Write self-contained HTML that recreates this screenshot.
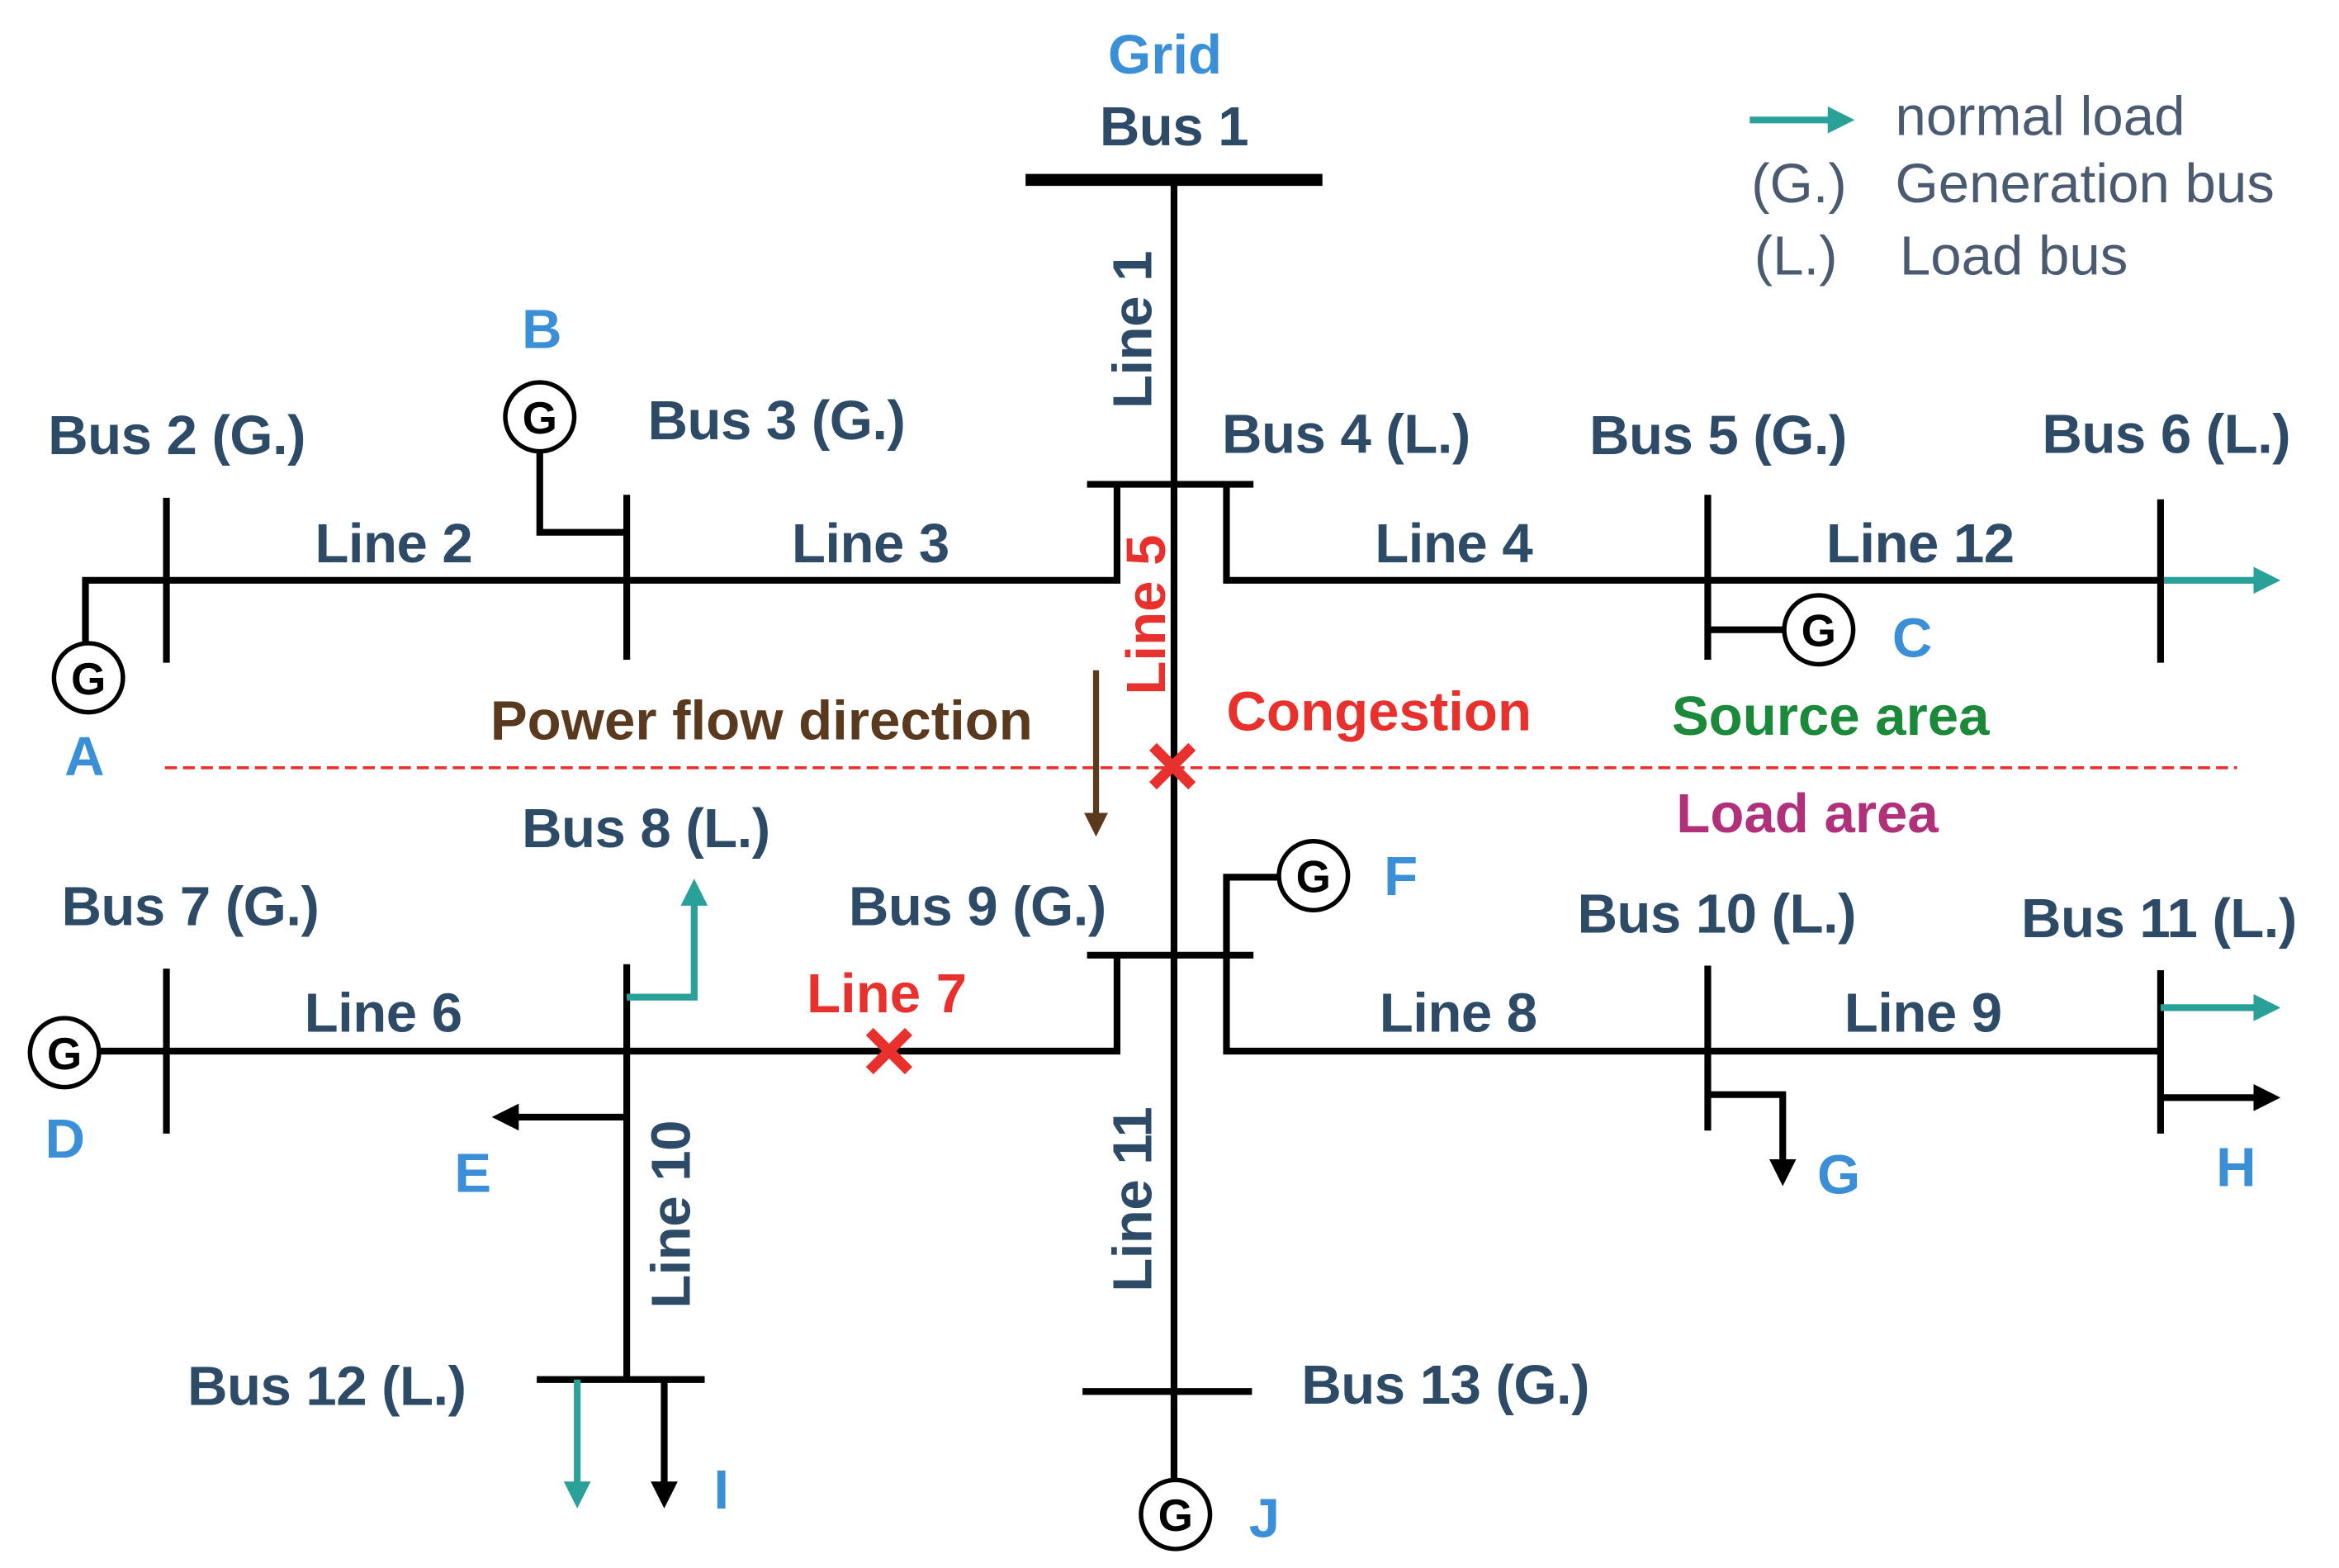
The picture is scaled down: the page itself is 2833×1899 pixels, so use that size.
<!DOCTYPE html>
<html><head><meta charset="utf-8"><style>
html,body{margin:0;padding:0;background:#fff;}
svg{display:block;}
text{font-family:"Liberation Sans",sans-serif;font-weight:bold;}
.d{fill:#2d4a66;font-size:37px;letter-spacing:-0.3px;}
.b{fill:#3a8fd6;font-size:37px;}
.r{fill:#e8302c;font-size:37px;}
.lg{fill:#4a5a70;font-size:37px;font-weight:normal;}
.k{stroke:#000;stroke-width:4.5;fill:none;}
.t{stroke:#2aa198;stroke-width:4.5;fill:none;}
</style></head><body>
<svg width="2833" height="1899" viewBox="0 0 1560 1045.7" preserveAspectRatio="none" xmlns="http://www.w3.org/2000/svg">
<defs>
<marker id="ak" markerWidth="4" markerHeight="4" refX="2" refY="2" orient="auto" markerUnits="strokeWidth"><path d="M0,0 L4,2 L0,4 z" fill="#000"/></marker>
<marker id="at" markerWidth="4" markerHeight="4" refX="2" refY="2" orient="auto" markerUnits="strokeWidth"><path d="M0,0 L4,2 L0,4 z" fill="#2aa198"/></marker>
<marker id="ab" markerWidth="4" markerHeight="4" refX="2" refY="2" orient="auto" markerUnits="strokeWidth"><path d="M0,0 L4,2 L0,4 z" fill="#5a3a1e"/></marker>
</defs>
<text x="777" y="49" class="b" text-anchor="middle">Grid</text>
<text x="783" y="97" class="d" text-anchor="middle">Bus 1</text>
<line x1="684" y1="120" x2="882" y2="120" stroke="#000" stroke-width="8"/>
<line x1="783" y1="120" x2="783" y2="990" class="k"/>
<line x1="725" y1="323" x2="836" y2="323" class="k"/>
<polyline points="745,323 745,387 57,387 57,430" class="k"/>
<polyline points="818,323 818,387 1440,387" class="k"/>
<line x1="1440" y1="387" x2="1512" y2="387" class="t" marker-end="url(#at)"/>
<line x1="111" y1="332" x2="111" y2="442" class="k"/>
<line x1="418" y1="330" x2="418" y2="440" class="k"/>
<polyline points="360,300 360,355 418,355" class="k"/>
<line x1="1139" y1="330" x2="1139" y2="440" class="k"/>
<line x1="1139" y1="420" x2="1190" y2="420" class="k"/>
<line x1="1441" y1="333" x2="1441" y2="442" class="k"/>
<line x1="725" y1="637" x2="836" y2="637" class="k"/>
<polyline points="745,637 745,701 66,701" class="k"/>
<polyline points="853,585 818,585 818,701 1440,701" class="k"/>
<line x1="111" y1="646" x2="111" y2="756" class="k"/>
<line x1="418" y1="643" x2="418" y2="920" class="k"/>
<polyline points="418,665 463,665 463,595" class="t" marker-end="url(#at)"/>
<line x1="418" y1="745" x2="337" y2="745" class="k" marker-end="url(#ak)"/>
<line x1="1139" y1="644" x2="1139" y2="754" class="k"/>
<polyline points="1139,730 1189,730 1189,782" class="k" marker-end="url(#ak)"/>
<line x1="1441" y1="647" x2="1441" y2="756" class="k"/>
<line x1="1441" y1="672" x2="1512" y2="672" class="t" marker-end="url(#at)"/>
<line x1="1441" y1="732" x2="1512" y2="732" class="k" marker-end="url(#ak)"/>
<line x1="358" y1="920" x2="470" y2="920" class="k"/>
<line x1="385" y1="920" x2="385" y2="997" class="t" marker-end="url(#at)"/>
<line x1="443" y1="920" x2="443" y2="997" class="k" marker-end="url(#ak)"/>
<line x1="722" y1="928" x2="835" y2="928" class="k"/>
<g stroke="#000" stroke-width="3" fill="#fff">
<circle cx="59" cy="452" r="23"/><circle cx="360" cy="278" r="23"/><circle cx="1213" cy="420" r="23"/>
<circle cx="876" cy="584" r="23"/><circle cx="43" cy="702" r="23"/><circle cx="784" cy="1010" r="23"/>
</g>
<g font-size="30" text-anchor="middle" fill="#000" style="font-family:'Liberation Sans',sans-serif;font-weight:bold">
<text x="59" y="463">G</text><text x="360" y="289">G</text><text x="1213" y="431">G</text>
<text x="876" y="595">G</text><text x="43" y="713">G</text><text x="784" y="1021">G</text>
</g>
<line x1="110" y1="512" x2="1492" y2="512" stroke="#e8302c" stroke-width="2" stroke-dasharray="8,4"/>
<line x1="731" y1="447" x2="731" y2="550" stroke="#5a3a1e" stroke-width="4" marker-end="url(#ab)"/>
<g stroke="#e8302c" stroke-width="7"><line x1="769" y1="498" x2="795" y2="524"/><line x1="795" y1="498" x2="769" y2="524"/>
<line x1="580" y1="688" x2="606" y2="714"/><line x1="606" y1="688" x2="580" y2="714"/></g>
<text x="32" y="303" class="d">Bus 2 (G.)</text>
<text x="210" y="375" class="d">Line 2</text>
<text x="432" y="293" class="d">Bus 3 (G.)</text>
<text x="528" y="375" class="d">Line 3</text>
<text x="815" y="302" class="d">Bus 4 (L.)</text>
<text x="917" y="375" class="d">Line 4</text>
<text x="1060" y="303" class="d">Bus 5 (G.)</text>
<text x="1218" y="375" class="d">Line 12</text>
<text x="1362" y="302" class="d">Bus 6 (L.)</text>
<text class="d" transform="translate(768,220) rotate(-90)" text-anchor="middle">Line 1</text>
<text class="r" transform="translate(777,410) rotate(-90)" text-anchor="middle">Line 5</text>
<text x="327" y="493" fill="#5a3a1e" font-size="37">Power flow direction</text>
<text x="818" y="487" class="r">Congestion</text>
<text x="1115" y="490" fill="#1a8a3a" font-size="37">Source area</text>
<text x="1118" y="555" fill="#b0307a" font-size="37">Load area</text>
<text x="43" y="517" class="b">A</text>
<text x="348" y="232" class="b">B</text>
<text x="1262" y="438" class="b">C</text>
<text x="348" y="565" class="d">Bus 8 (L.)</text>
<text x="41" y="617" class="d">Bus 7 (G.)</text>
<text x="203" y="688" class="d">Line 6</text>
<text x="566" y="617" class="d">Bus 9 (G.)</text>
<text x="538" y="675" class="r">Line 7</text>
<text x="923" y="597" class="b">F</text>
<text x="1052" y="622" class="d">Bus 10 (L.)</text>
<text x="920" y="688" class="d">Line 8</text>
<text x="1230" y="688" class="d">Line 9</text>
<text x="1348" y="625" class="d">Bus 11 (L.)</text>
<text x="30" y="772" class="b">D</text>
<text x="303" y="795" class="b">E</text>
<text x="1212" y="796" class="b">G</text>
<text x="1478" y="791" class="b">H</text>
<text class="d" transform="translate(460,810) rotate(-90)" text-anchor="middle">Line 10</text>
<text class="d" transform="translate(768,800) rotate(-90)" text-anchor="middle">Line 11</text>
<text x="125" y="937" class="d">Bus 12 (L.)</text>
<text x="476" y="1006" class="b">I</text>
<text x="868" y="936" class="d">Bus 13 (G.)</text>
<text x="833" y="1025" class="b">J</text>
<line x1="1167" y1="80" x2="1228" y2="80" class="t" stroke-width="5" marker-end="url(#at)"/>
<text x="1264" y="90" class="lg">normal load</text>
<text x="1168" y="135" class="lg">(G.)</text>
<text x="1264" y="135" class="lg">Generation bus</text>
<text x="1170" y="183" class="lg">(L.)</text>
<text x="1267" y="183" class="lg">Load bus</text>
</svg>
</body></html>
